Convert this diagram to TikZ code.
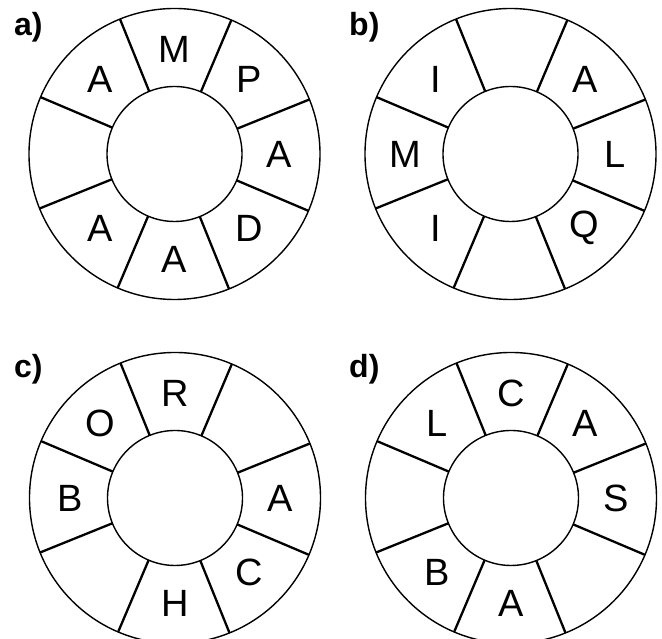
\documentclass[tikz,border=0pt]{standalone}
\usepackage{fontspec}
\setmainfont{Liberation Sans}
\usetikzlibrary{calc}
\def\outring{\node[circle,draw,line width=1.4pt,minimum size=291pt,inner sep=0pt,outer sep=0pt]}
\def\inring{\node[circle,draw,line width=1.4pt,minimum size=135pt,inner sep=0pt,outer sep=0pt]}
\def\drawspoke{\draw[line width=2.3pt]}
\def\letternode{\node[font=\fontsize{38}{38}\selectfont]}
\def\tagnode{\node[anchor=base west,inner sep=0pt,font=\fontsize{32}{32}\selectfont\bfseries]}

\begin{document}
\begin{tikzpicture}[x=1pt,y=1pt]
\useasboundingbox (0,0) rectangle (662,639);
% rings
\outring (aout) at (174.5,485) {};
\inring (ain) at (174.5,485) {};
\outring (bout) at (510.5,485) {};
\inring (bin) at (510.5,485) {};
\outring (cout) at (175,141) {};
\inring (cin) at (175,141) {};
\outring (dout) at (511,141) {};
\inring (din) at (511,141) {};
% spokes
\foreach \r in {a,b,c,d}
  \foreach \ang in {22.5,67.5,...,337.5}
    \drawspoke (\r in.\ang) -- (\r out.\ang);
% letters
\foreach \ang/\txt in {90/M,45/P,0/A,-45/D,-90/A,-135/A,135/A}
  \letternode (a\ang) at ($(ain)+(\ang:105)$) {\txt};
\foreach \ang/\txt in {45/A,0/L,-45/Q,-135/I,180/M,135/I}
  \letternode (b\ang) at ($(bin)+(\ang:105)$) {\txt};
\foreach \ang/\txt in {90/R,0/A,-45/C,-90/H,180/B,135/O}
  \letternode (c\ang) at ($(cin)+(\ang:105)$) {\txt};
\foreach \ang/\txt in {90/C,45/A,0/S,-90/A,-135/B,135/L}
  \letternode (d\ang) at ($(din)+(\ang:105)$) {\txt};
% tags
\tagnode (atag) at (14,603) {a)};
\tagnode (btag) at (349,603) {b)};
\tagnode (ctag) at (14,261) {c)};
\tagnode (dtag) at (349,261) {d)};
\end{tikzpicture}
\end{document}
